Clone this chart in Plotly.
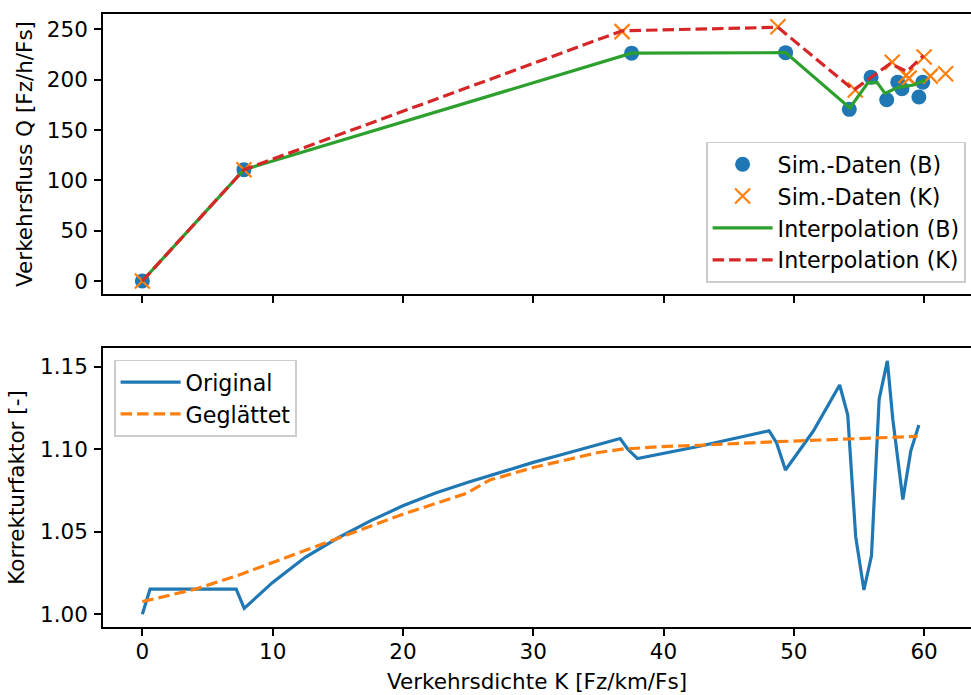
import plotly.graph_objects as go

# ---------------- data ----------------
# Top panel: simulation data B (circles) and K (crosses)
simB_k = [0.0, 7.8, 37.55, 49.37, 54.26, 55.93, 57.13, 57.98, 58.3, 59.6, 59.9]
simB_q = [0.0, 110.6, 226.3, 226.8, 170.5, 202.5, 180.0, 197.5, 191.0, 182.8, 197.5]

simK_k = [0.0, 7.8, 36.82, 48.78, 54.72, 57.55, 58.6, 58.85, 60.0, 60.48, 61.65]
simK_q = [0.0, 110.6, 247.7, 252.6, 189.7, 217.3, 204.0, 201.5, 222.5, 203.5, 205.9]

# Interpolation curves
intB_k = [0.0, 7.8, 37.55, 49.37, 54.3, 55.7, 56.4, 57.0, 58.0, 59.2, 60.1]
intB_q = [0.0, 110.6, 226.3, 226.8, 172.0, 197.0, 197.0, 186.4, 192.4, 194.7, 199.6]

intK_k = [0.0, 7.8, 36.82, 48.78, 54.6, 57.4, 58.68, 59.96]
intK_q = [0.0, 110.6, 248.5, 252.0, 189.7, 216.0, 208.0, 224.0]

# Bottom panel: correction factor
orig_k = [0.0, 0.59, 7.2, 7.82, 10.0, 12.5, 15.0, 17.5, 20.0, 22.5, 25.0, 27.5,
          30.0, 32.5, 35.0, 36.67, 37.26, 38.0, 42.75, 48.1, 48.68, 49.36, 51.5,
          53.52, 54.14, 54.75, 55.38, 55.96, 56.55, 57.18, 57.6, 58.37, 58.98, 59.6]
orig_f = [1.0, 1.0152, 1.0152, 1.0036, 1.0193, 1.0345, 1.0462, 1.0566, 1.0657,
          1.0735, 1.0800, 1.0860, 1.0920, 1.0974, 1.1026, 1.1065, 1.1000, 1.0943,
          1.1018, 1.1112, 1.1038, 1.0874, 1.1110, 1.1389, 1.1207, 1.0470, 1.0147,
          1.0354, 1.1303, 1.1535, 1.1180, 1.0695, 1.0990, 1.1147]

smooth_k = [0.0, 4.06, 7.2, 10.0, 15.5, 20.0, 24.9, 26.7, 27.6, 30.0, 35.0, 36.8,
            39.9, 42.8, 48.6, 53.0, 59.5]
smooth_f = [1.0077, 1.0152, 1.0232, 1.0313, 1.0475, 1.0606, 1.0733, 1.0815, 1.0834,
            1.0889, 1.0980, 1.1000, 1.1016, 1.1024, 1.1045, 1.1060, 1.1078]

x_ticks = [0, 10, 20, 30, 40, 50, 60]
q_ticks = [0, 50, 100, 150, 200, 250]
f_ticks = [1.00, 1.05, 1.10, 1.15]

# ---------------- styling ----------------
BLUE, ORANGE, GREEN, RED = "#1f77b4", "#ff7f0e", "#2ca02c", "#d62728"
FONT = "DejaVu Sans"
FS = 21.5
LFS = 22.2
LW = 3.2
DASH = "11.5px,5px"

fig = go.Figure()

fig.add_trace(go.Scatter(x=simB_k, y=simB_q, mode="markers", name="Sim.-Daten (B)",
                         marker=dict(symbol="circle", size=15, color=BLUE),
                         xaxis="x", yaxis="y", legend="legend", legendgroup="a"))
fig.add_trace(go.Scatter(x=simK_k, y=simK_q, mode="markers", name="Sim.-Daten (K)",
                         marker=dict(symbol="x-thin", size=15, color=ORANGE,
                                     line=dict(color=ORANGE, width=2.2)),
                         xaxis="x", yaxis="y", legend="legend", legendgroup="b"))
fig.add_trace(go.Scatter(x=intB_k, y=intB_q, mode="lines", name="Interpolation (B)",
                         line=dict(color=GREEN, width=LW),
                         xaxis="x", yaxis="y", legend="legend", legendgroup="c"))
fig.add_trace(go.Scatter(x=intK_k, y=intK_q, mode="lines", name="Interpolation (K)",
                         line=dict(color=RED, width=LW, dash=DASH),
                         xaxis="x", yaxis="y", legend="legend", legendgroup="d"))

fig.add_trace(go.Scatter(x=orig_k, y=orig_f, mode="lines", name="Original",
                         line=dict(color=BLUE, width=LW),
                         xaxis="x2", yaxis="y2", legend="legend2", legendgroup="e"))
fig.add_trace(go.Scatter(x=smooth_k, y=smooth_f, mode="lines", name="Geglättet",
                         line=dict(color=ORANGE, width=LW, dash=DASH),
                         xaxis="x2", yaxis="y2", legend="legend2", legendgroup="f"))

W, H = 971, 695
L, R, T, B = 103, 0, 14, 68
PH = H - T - B
top_dom = [(627 - 294) / PH, 1.0]
bot_dom = [0.0, (627 - 348) / PH]

axis_common = dict(showline=True, linecolor="black", linewidth=1.6,
                   ticks="outside", ticklen=7, tickwidth=1.6, tickcolor="black",
                   showgrid=False, zeroline=False,
                   tickfont=dict(family=FONT, size=FS, color="black"))

xr = [-3.02, 63.6]
legend_common = dict(xanchor="left", yanchor="top",
                     bgcolor="rgba(255,255,255,0.8)", bordercolor="#cccccc",
                     borderwidth=1.6, font=dict(family=FONT, size=LFS),
                     itemwidth=60, tracegroupgap=0)
fig.update_layout(
    width=W, height=H,
    margin=dict(l=L, r=R, t=T, b=B),
    paper_bgcolor="white", plot_bgcolor="white",
    font=dict(family=FONT, size=FS, color="black"),
    xaxis=dict(domain=[0, 1], anchor="y", range=xr, tickvals=x_ticks,
               showticklabels=False, mirror=True, matches="x2", **axis_common),
    yaxis=dict(domain=top_dom, anchor="x", range=[-12.9, 265.2], tickvals=q_ticks,
               title=dict(text="Verkehrsfluss Q [Fz/h/Fs]", standoff=8,
                          font=dict(family=FONT, size=FS)),
               ticklabelstandoff=2, **axis_common),
    xaxis2=dict(domain=[0, 1], anchor="y2", range=xr, tickvals=x_ticks,
                mirror=True,
                title=dict(text="Verkehrsdichte K [Fz/km/Fs]", standoff=11,
                           font=dict(family=FONT, size=FS)),
                ticklabelstandoff=-3, **axis_common),
    yaxis2=dict(domain=bot_dom, anchor="x2", range=[0.9923, 1.1613], tickvals=f_ticks,
                tickformat=".2f",
                title=dict(text="Korrekturfaktor [-]", standoff=10,
                           font=dict(family=FONT, size=FS)),
                ticklabelstandoff=2, **axis_common),
    legend=dict(x=(706 - L) / (W - L - R), y=(627 - 141.7) / PH, **legend_common),
    legend2=dict(x=(114 - L) / (W - L - R), y=(627 - 359.5) / PH, **legend_common),
)

fig.write_html("out.html")
